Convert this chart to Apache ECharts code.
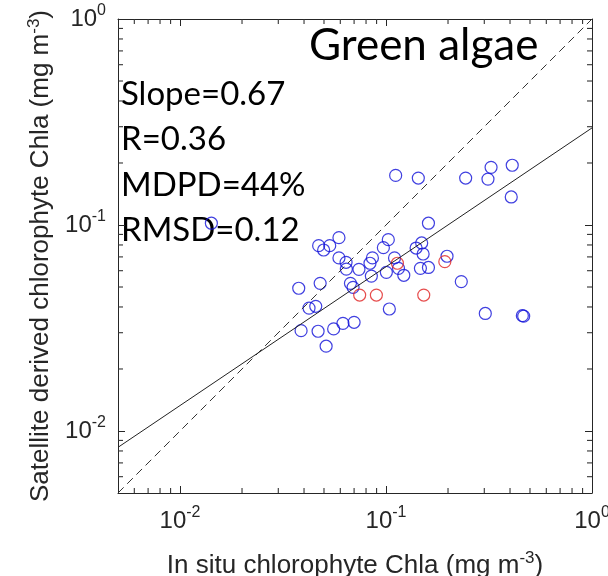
<!DOCTYPE html>
<html>
<head>
<meta charset="utf-8">
<script src="https://cdn.jsdelivr.net/npm/echarts@6/dist/echarts.min.js"></script>
<style>html,body{margin:0;padding:0;background:#fff;}#c{width:608px;height:576px;}</style>
</head>
<body>
<div id="c"></div>
<script>
// ---- data ----
var blueX = [0.0142,0.1114,0.1435,0.2436,0.3236,0.3126,0.410,0.4055,0.1607,0.0591,0.0471,0.0498,0.0533,0.1026,0.0971,0.149,0.140,0.1514,0.1978,0.0591,0.0640,0.0859,0.0836,0.110,0.0642,0.0739,0.0849,0.1004,0.115,0.122,0.1469,0.1607,0.232,0.0377,0.0479,0.0672,0.0692,0.0423,0.0456,0.1038,0.3034,0.459,0.466,0.0387,0.0468,0.0557,0.0618,0.070,0.0512];
var blueY = [0.102,0.174,0.169,0.169,0.1905,0.167,0.195,0.1368,0.102,0.0868,0.0794,0.0756,0.0794,0.0849,0.0776,0.0818,0.0773,0.0723,0.0705,0.0692,0.0659,0.0692,0.0652,0.0692,0.0611,0.0609,0.0565,0.0589,0.0616,0.0570,0.0616,0.0622,0.0531,0.0493,0.0521,0.0521,0.0498,0.0395,0.0403,0.0391,0.0372,0.0363,0.0361,0.0307,0.0305,0.0313,0.0333,0.0337,0.0258];
var redX = [0.0745,0.0898,0.1525,0.1136,0.193];
var redY = [0.0457,0.0457,0.0457,0.0652,0.0664];
var oneToOneX = [0.005,1];
var oneToOneY = [0.005,1];
var fitX = [0.005,1];
var fitY = [0.00833,0.296];
var axisMin = 0.005, axisMax = 1;
var majorTicks = [0.01,0.1,1];
var majorExps = ['-2','-1','0'];
var minorTicks = [0.006,0.007,0.008,0.009,0.02,0.03,0.04,0.05,0.06,0.07,0.08,0.09,0.2,0.3,0.4,0.5,0.6,0.7,0.8,0.9];
var statLines = ['Slope=0.67','R=0.36','MDPD=44%','RMSD=0.12'];
var panelTitle = 'Green algae';
var xTitle = 'In situ chlorophyte Chla (mg m{s|-3})';
var yTitle = 'Satellite derived chlorophyte Chla (mg m{s|-3})';

function pairs(xs, ys){ return xs.map(function(x,i){ return [x, ys[i]]; }); }

var AX = '#262626';
var FONT = 'Liberation Sans';
function labelFmt(v){
  var idx = -1;
  for (var i=0;i<majorTicks.length;i++){ if (Math.abs(Math.log10(v)-Math.log10(majorTicks[i]))<1e-6) idx=i; }
  if (idx<0) return '';
  return '10{s|' + majorExps[idx] + '}';
}
function mkAxis(pos, showLabel, extra){
  var a = {
    type: 'log', logBase: 10, min: axisMin, max: axisMax, position: pos,
    splitLine: {show:false}, minorTick:{show:false},
    axisLine: {show: true, lineStyle: {color: AX, width: 1}},
    axisTick: {show: true, inside: true, length: 7, customValues: majorTicks, lineStyle:{color: AX, width: 1}},
    axisLabel: showLabel ? {show: true, customValues: majorTicks, formatter: labelFmt,
      fontSize: 24, fontFamily: FONT, color: AX, margin: 12,
      rich: {s: {fontSize: 16, fontFamily: FONT, color: AX, padding: [0,0,16,0]}}} : {show: false}
  };
  if (extra) for (var k in extra) a[k] = extra[k];
  return a;
}
var nameRich = {s: {fontSize: 17, fontFamily: FONT, color: AX, padding: [0,0,14,0]}};

function tickSeries(data, size, offset){
  return {type:'scatter', data: data, symbol:'rect', symbolSize: size, symbolOffset: offset,
    silent:true, clip:false, z: 5, itemStyle:{color: '#333', borderWidth: 0, opacity: 1}};
}
var minorBottom = minorTicks.map(function(v){return [v, axisMin];});
var minorTop = minorTicks.map(function(v){return [v, axisMax];});
var minorLeft = minorTicks.map(function(v){return [axisMin, v];});
var minorRight = minorTicks.map(function(v){return [axisMax, v];});

var chart = echarts.init(document.getElementById('c'), null, {renderer: 'canvas'});
chart.setOption({
  backgroundColor: '#fff',
  animation: false,
  grid: {left: 118, top: 19, width: 474, height: 474, containLabel: false, outerBoundsMode: 'none'},
  xAxis: [
    mkAxis('bottom', true, {name: xTitle, nameLocation:'middle', nameGap: 57,
      nameTextStyle:{fontSize: 26, fontFamily: FONT, color: AX, rich: nameRich}}),
    mkAxis('top', false)
  ],
  yAxis: [
    mkAxis('left', true, {name: yTitle, nameLocation:'middle', nameGap: 60, nameRotate: 90,
      nameTextStyle:{fontSize: 26, fontFamily: FONT, color: AX, rich: nameRich}}),
    mkAxis('right', false)
  ],
  series: [
    tickSeries(minorBottom, [1.1,5], [0,-2.5]),
    tickSeries(minorTop, [1.1,5], [0,2.5]),
    tickSeries(minorLeft, [5,1.1], [2.5,0]),
    tickSeries(minorRight, [5,1.1], [-2.5,0]),
    {type:'line', data: pairs(oneToOneX, oneToOneY), symbol:'none', silent:true,
     lineStyle:{color:'#333', width:1, type:[8,5]}},
    {type:'line', data: pairs(fitX, fitY), symbol:'none', silent:true,
     lineStyle:{color:'#222', width:1}},
    {type:'scatter', data: pairs(blueX, blueY), symbol:'circle', symbolSize: 12,
     itemStyle:{color:'transparent', borderColor:'#1010d8', borderWidth:1.2}},
    {type:'scatter', data: pairs(redX, redY), symbol:'circle', symbolSize: 12,
     itemStyle:{color:'transparent', borderColor:'#e02020', borderWidth:1.2}}
  ],
  graphic: [
    {type:'text', left: 309, top: 24, style:{text: panelTitle, font: '44px Lato', fill:'#000'}},
    {type:'group', left: 121, top: 78, children: statLines.map(function(s,i){
      return {type:'text', x: 0, y: i*45.3, style:{text: s, font: '33px Lato', fill:'#000'}};
    })}
  ]
});
</script>
</body>
</html>
